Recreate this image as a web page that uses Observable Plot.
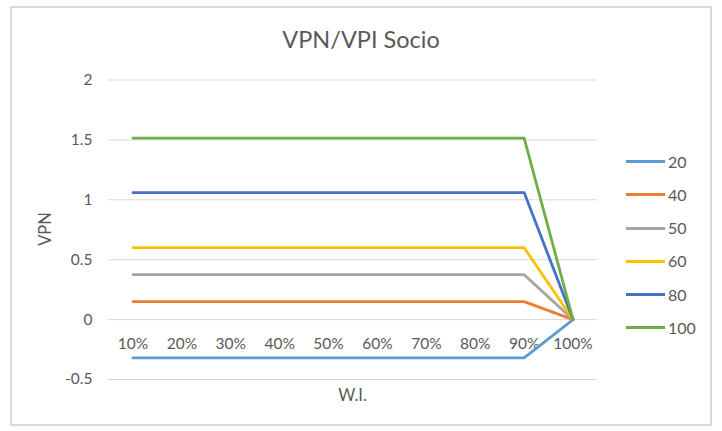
<!DOCTYPE html>
<html>
<head>
<meta charset="utf-8">
<script src="https://cdn.jsdelivr.net/npm/d3@7"></script>
<script src="https://cdn.jsdelivr.net/npm/@observablehq/plot@0.6"></script>
<style>
  html, body { margin: 0; padding: 0; background: #fff; }
  #wrap { position: relative; width: 722px; height: 431px; overflow: hidden; font-family: Lato, "Liberation Sans", sans-serif; color: #595959; }
  #frame { position: absolute; left: 10px; top: 5.5px; width: 702px; height: 420px; border: 2px solid #d9d9d9; box-sizing: border-box; }
  #title { position: absolute; left: 0; width: 722px; top: 25px; text-align: center; font-size: 23.5px; color: #595959; }
  #ylab { position: absolute; left: 45px; top: 229px; transform: translate(-50%, -50%) rotate(-90deg); font-size: 16.5px; }
  #xlab { position: absolute; left: 352.5px; top: 395px; transform: translate(-50%, -50%); font-size: 16.5px; }
  #chart { position: absolute; left: 0; top: 0; }
  .leg { position: absolute; left: 626px; font-size: 16px; }
  .leg span.sw { position: absolute; left: 0; top: -1.5px; width: 39px; height: 3px; }
  .leg span.lb { position: absolute; left: 42px; top: -10px; white-space: nowrap; }
</style>
</head>
<body>
<div id="wrap">
  <div id="frame"></div>
  <div id="title">VPN/VPI Socio</div>
  <div id="chart"></div>
  <div id="ylab">VPN</div>
  <div id="xlab">W.I.</div>
  <div id="legend"></div>
</div>
<script>
const categories = ["10%", "20%", "30%", "40%", "50%", "60%", "70%", "80%", "90%", "100%"];
const seriesNames = ["20", "40", "50", "60", "80", "100"];
const seriesColors = ["#5B9BD5", "#ED7D31", "#A5A5A5", "#FFC000", "#4472C4", "#70AD47"];
const yTicks = [-0.5, 0, 0.5, 1, 1.5, 2];
const s20  = [-0.32, -0.32, -0.32, -0.32, -0.32, -0.32, -0.32, -0.32, -0.32, 0];
const s40  = [0.15, 0.15, 0.15, 0.15, 0.15, 0.15, 0.15, 0.15, 0.15, 0];
const s50  = [0.375, 0.375, 0.375, 0.375, 0.375, 0.375, 0.375, 0.375, 0.375, 0];
const s60  = [0.60, 0.60, 0.60, 0.60, 0.60, 0.60, 0.60, 0.60, 0.60, 0];
const s80  = [1.06, 1.06, 1.06, 1.06, 1.06, 1.06, 1.06, 1.06, 1.06, 0];
const s100 = [1.515, 1.515, 1.515, 1.515, 1.515, 1.515, 1.515, 1.515, 1.515, 0];

const seriesValues = [s20, s40, s50, s60, s80, s100];
const rows = [];
seriesNames.forEach((name, i) => {
  seriesValues[i].forEach((v, j) => rows.push({series: name, cat: categories[j], value: v}));
});

const plot = Plot.plot({
  width: 722,
  height: 431,
  marginLeft: 108,
  marginRight: 125,
  marginTop: 79.5,
  marginBottom: 52,
  style: {fontFamily: 'Lato, "Liberation Sans", sans-serif', fontSize: "15.5px", color: "#595959", background: "transparent"},
  x: {type: "point", domain: categories, padding: 0.5, round: false, axis: null},
  y: {domain: [-0.5, 2], ticks: yTicks, tickFormat: d => String(d), tickSize: 0, tickPadding: 16, label: null},
  color: {domain: seriesNames, range: seriesColors},
  marks: [
    Plot.gridY(yTicks, {stroke: "#d9d9d9", strokeOpacity: 1, strokeWidth: 1}),
    Plot.axisY(yTicks, {tickSize: 0, tickPadding: 16, tickFormat: d => String(d), label: null, fill: "#595959", fontSize: 15.5}),
    Plot.text(categories, {x: d => d, y: () => 0, dy: 24, fill: "#595959", fontSize: 15.5}),
    Plot.line(rows, {x: "cat", y: "value", z: "series", stroke: "series", strokeWidth: 2.8, strokeLinejoin: "round", strokeLinecap: "round"})
  ]
});
document.getElementById("chart").appendChild(plot);

const leg = document.getElementById("legend");
const legTop = 161.7, legStep = 33.2;
seriesNames.forEach((name, i) => {
  const d = document.createElement("div");
  d.className = "leg";
  d.style.top = (legTop + i * legStep) + "px";
  d.innerHTML = `<span class="sw" style="background:${seriesColors[i]}"></span><span class="lb">${name}</span>`;
  leg.appendChild(d);
});
</script>
</body>
</html>
